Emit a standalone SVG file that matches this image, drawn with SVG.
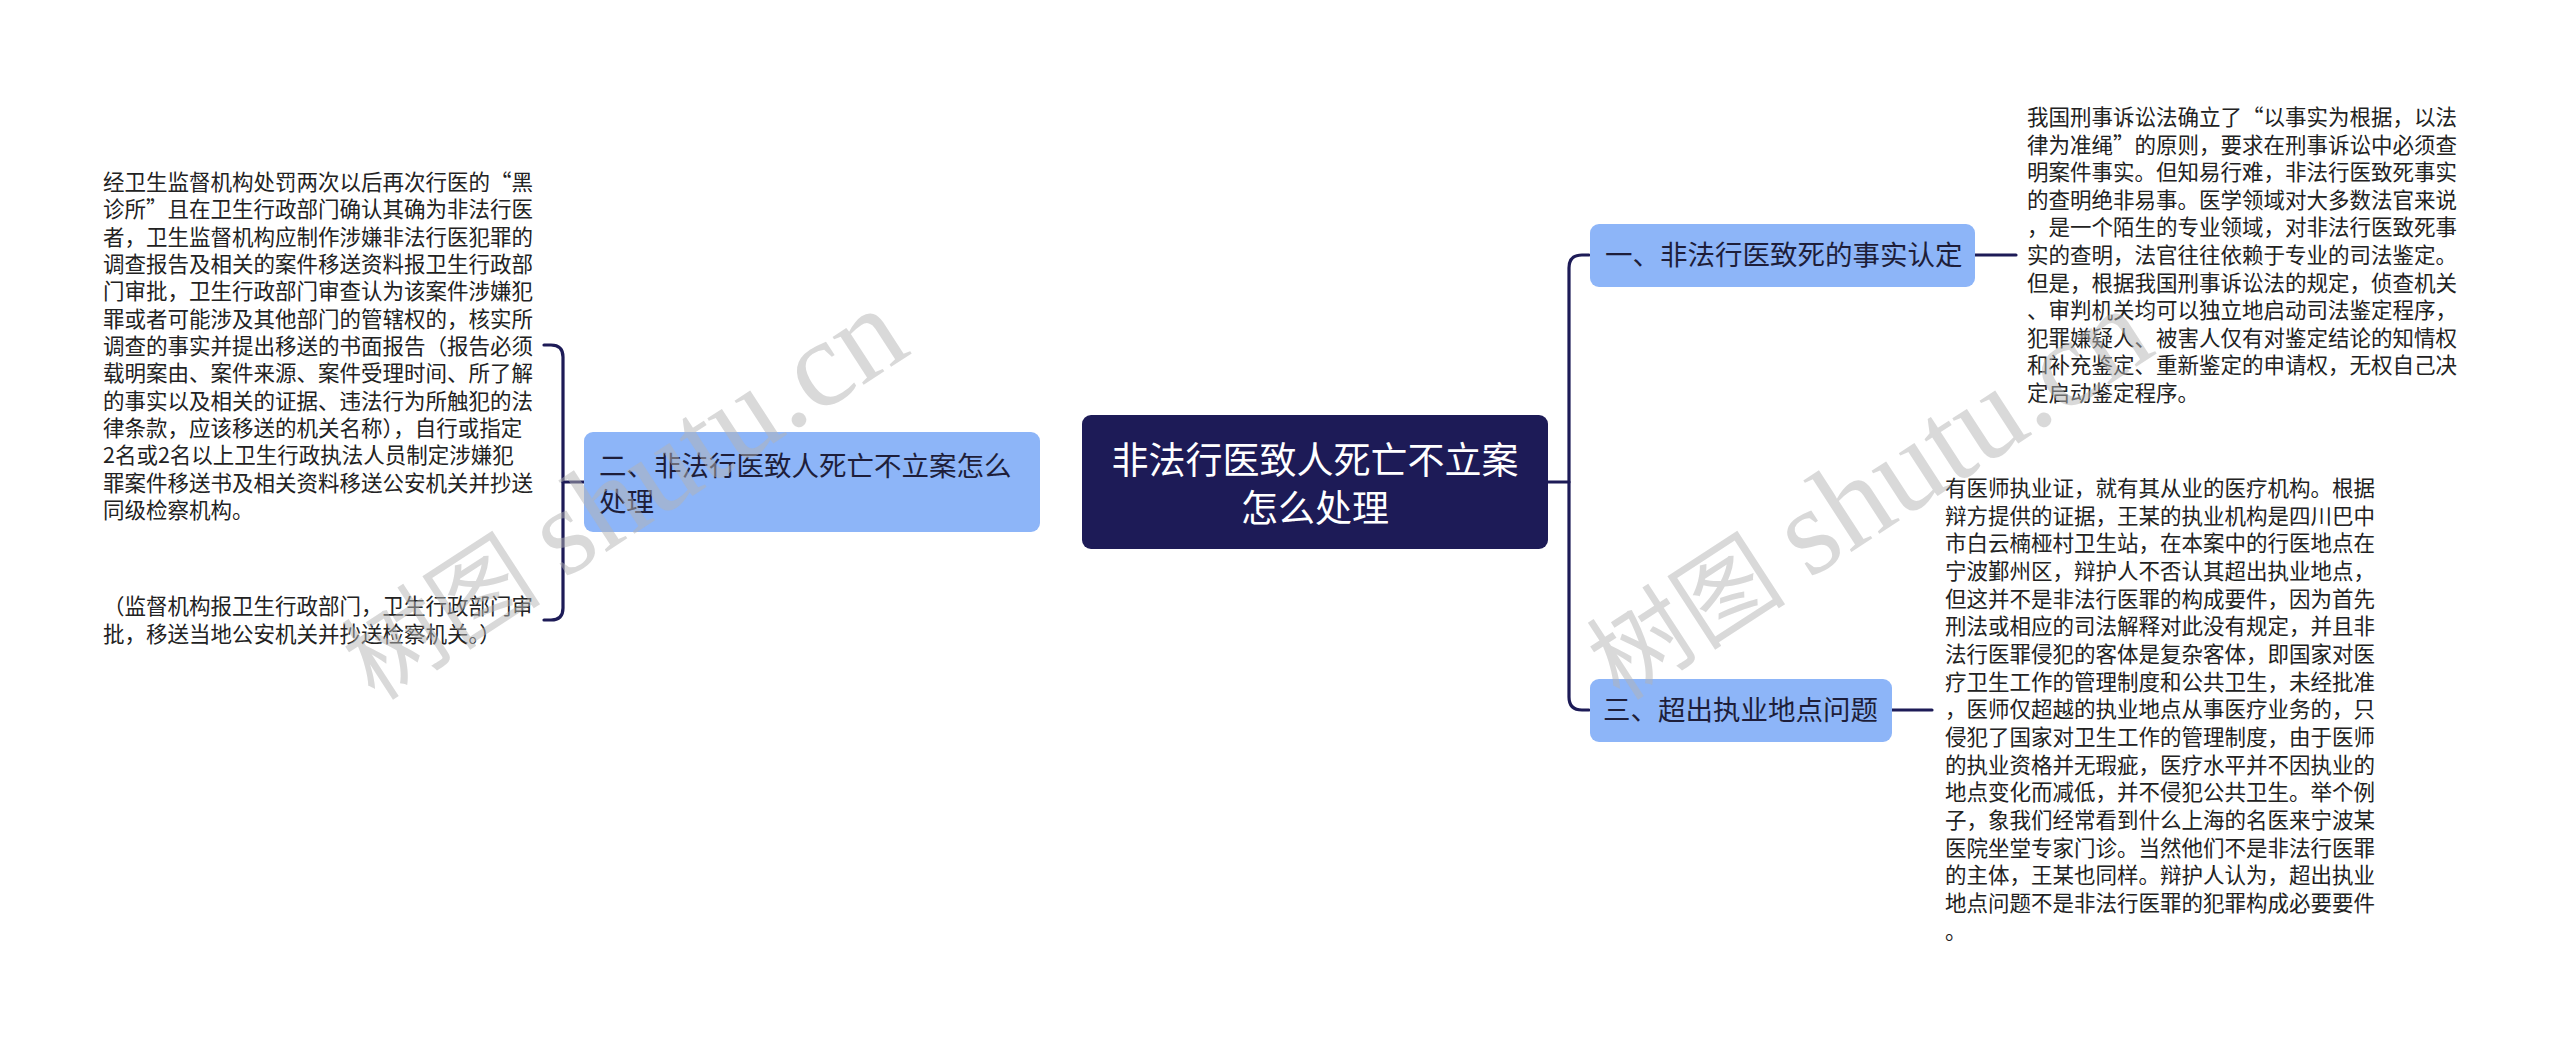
<svg xmlns="http://www.w3.org/2000/svg" width="2560" height="1048" viewBox="0 0 2560 1048">
<style>
.bg{fill:#ffffff}
.sub{fill:#8db5f8}
.root{fill:#1d1b57}
.conn{fill:none;stroke:#1d1b57;stroke-width:3.2;stroke-linecap:round}
.t{font-family:"Noto Sans CJK SC","Noto Sans",sans-serif;fill:#222222;font-size:21.5px}
.nt{font-family:"Noto Sans CJK SC","Noto Sans",sans-serif;fill:#1e1e3a;font-size:27.5px}
.rt{font-family:"Noto Sans CJK SC","Noto Sans",sans-serif;fill:#ffffff;font-size:37px}
.wm{font-family:"Liberation Serif","Noto Sans CJK SC",serif;fill:#b4b4b4;fill-opacity:0.5;font-size:100px}
.wl{font-size:124px}
</style>
<rect class="bg" x="0" y="0" width="2560" height="1048"/>
<g id="connectors">
<path class="conn" d="M1548 482 H1569"/>
<path class="conn" d="M1589 255 H1582 Q1569 255 1569 268 V697 Q1569 710 1582 710 H1589"/>
<path class="conn" d="M584 482 H563"/>
<path class="conn" d="M544 345 H551 Q563 345 563 357 V608 Q563 620 551 620 H544"/>
<path class="conn" d="M1975 255 H2016"/>
<path class="conn" d="M1892 710 H1932"/>
</g>
<g id="root">
<rect class="root" x="1082" y="415" width="466" height="134" rx="9"/>
<text class="rt" text-anchor="middle"><tspan x="1315" y="474">非法行医致人死亡不立案</tspan><tspan x="1315" y="522">怎么处理</tspan></text>
</g>
<g id="node-2">
<rect class="sub" x="584" y="432" width="456" height="100" rx="9"/>
<text class="nt"><tspan x="599" y="476">二、非法行医致人死亡不立案怎么</tspan><tspan x="599" y="512">处理</tspan></text>
</g>
<g id="node-1">
<rect class="sub" x="1590" y="224" width="385" height="63" rx="9"/>
<text class="nt" x="1605" y="265">一、非法行医致死的事实认定</text>
</g>
<g id="node-3">
<rect class="sub" x="1590" y="679" width="302" height="63" rx="9"/>
<text class="nt" x="1603" y="720">三、超出执业地点问题</text>
</g>
<g id="leaf-2a">
<text class="t"><tspan x="103" y="190">经卫生监督机构处罚两次以后再次行医的“黑</tspan><tspan x="103" dy="27.33">诊所”且在卫生行政部门确认其确为非法行医</tspan><tspan x="103" dy="27.33">者，卫生监督机构应制作涉嫌非法行医犯罪的</tspan><tspan x="103" dy="27.33">调查报告及相关的案件移送资料报卫生行政部</tspan><tspan x="103" dy="27.33">门审批，卫生行政部门审查认为该案件涉嫌犯</tspan><tspan x="103" dy="27.33">罪或者可能涉及其他部门的管辖权的，核实所</tspan><tspan x="103" dy="27.33">调查的事实并提出移送的书面报告（报告必须</tspan><tspan x="103" dy="27.33">载明案由、案件来源、案件受理时间、所了解</tspan><tspan x="103" dy="27.33">的事实以及相关的证据、违法行为所触犯的法</tspan><tspan x="103" dy="27.33">律条款，应该移送的机关名称），自行或指定</tspan><tspan x="103" dy="27.33">2名或2名以上卫生行政执法人员制定涉嫌犯</tspan><tspan x="103" dy="27.33">罪案件移送书及相关资料移送公安机关并抄送</tspan><tspan x="103" dy="27.33">同级检察机构。</tspan></text>
</g>
<g id="leaf-2b">
<text class="t"><tspan x="103" y="614">（监督机构报卫生行政部门，卫生行政部门审</tspan><tspan x="103" dy="27.5">批，移送当地公安机关并抄送检察机关。）</tspan></text>
</g>
<g id="leaf-1">
<text class="t"><tspan x="2027" y="125">我国刑事诉讼法确立了“以事实为根据，以法</tspan><tspan x="2027" dy="27.6">律为准绳”的原则，要求在刑事诉讼中必须查</tspan><tspan x="2027" dy="27.6">明案件事实。但知易行难，非法行医致死事实</tspan><tspan x="2027" dy="27.6">的查明绝非易事。医学领域对大多数法官来说</tspan><tspan x="2027" dy="27.6">，是一个陌生的专业领域，对非法行医致死事</tspan><tspan x="2027" dy="27.6">实的查明，法官往往依赖于专业的司法鉴定。</tspan><tspan x="2027" dy="27.6">但是，根据我国刑事诉讼法的规定，侦查机关</tspan><tspan x="2027" dy="27.6">、审判机关均可以独立地启动司法鉴定程序，</tspan><tspan x="2027" dy="27.6">犯罪嫌疑人、被害人仅有对鉴定结论的知情权</tspan><tspan x="2027" dy="27.6">和补充鉴定、重新鉴定的申请权，无权自己决</tspan><tspan x="2027" dy="27.6">定启动鉴定程序。</tspan></text>
</g>
<g id="leaf-3">
<text class="t"><tspan x="1945" y="496">有医师执业证，就有其从业的医疗机构。根据</tspan><tspan x="1945" dy="27.67">辩方提供的证据，王某的执业机构是四川巴中</tspan><tspan x="1945" dy="27.67">市白云楠桠村卫生站，在本案中的行医地点在</tspan><tspan x="1945" dy="27.67">宁波鄞州区，辩护人不否认其超出执业地点，</tspan><tspan x="1945" dy="27.67">但这并不是非法行医罪的构成要件，因为首先</tspan><tspan x="1945" dy="27.67">刑法或相应的司法解释对此没有规定，并且非</tspan><tspan x="1945" dy="27.67">法行医罪侵犯的客体是复杂客体，即国家对医</tspan><tspan x="1945" dy="27.67">疗卫生工作的管理制度和公共卫生，未经批准</tspan><tspan x="1945" dy="27.67">，医师仅超越的执业地点从事医疗业务的，只</tspan><tspan x="1945" dy="27.67">侵犯了国家对卫生工作的管理制度，由于医师</tspan><tspan x="1945" dy="27.67">的执业资格并无瑕疵，医疗水平并不因执业的</tspan><tspan x="1945" dy="27.67">地点变化而减低，并不侵犯公共卫生。举个例</tspan><tspan x="1945" dy="27.67">子，象我们经常看到什么上海的名医来宁波某</tspan><tspan x="1945" dy="27.67">医院坐堂专家门诊。当然他们不是非法行医罪</tspan><tspan x="1945" dy="27.67">的主体，王某也同样。辩护人认为，超出执业</tspan><tspan x="1945" dy="27.67">地点问题不是非法行医罪的犯罪构成必要要件</tspan><tspan x="1945" dy="27.67">。</tspan></text>
</g>
<g id="watermarks">
<text class="wm" x="0" y="0" transform="translate(375 702) rotate(-33)">树图 <tspan class="wl">shutu.cn</tspan></text>
<text class="wm" x="0" y="0" transform="translate(1620 702) rotate(-33)">树图 <tspan class="wl">shutu.cn</tspan></text>
</g>
</svg>
